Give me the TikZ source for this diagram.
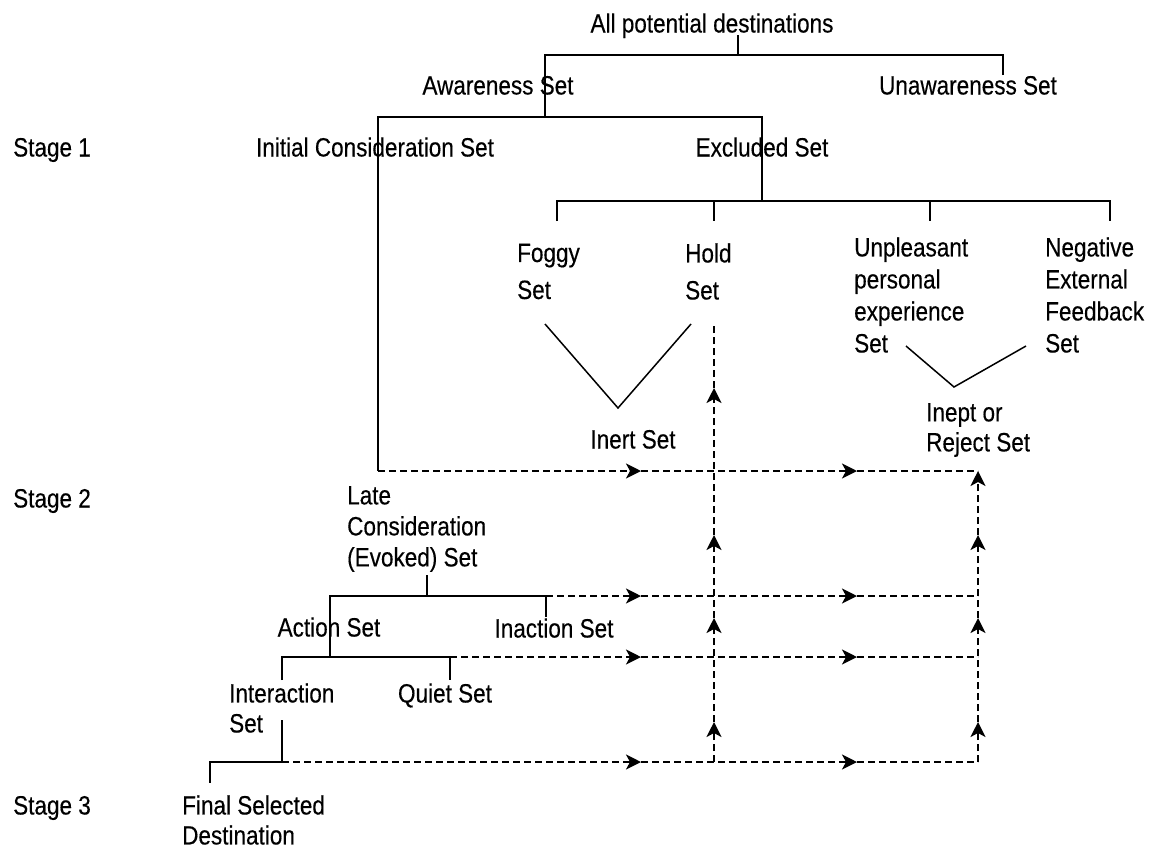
\documentclass[tikz,border=0pt]{standalone}
\usepackage{fontspec}
\setmainfont{Liberation Sans}[FakeStretch=0.85,FakeBold=0.3]
\usetikzlibrary{arrows.meta}
\tikzset{
  lbl/.style={inner sep=0pt, font=\fontsize{26.5}{32}\selectfont, text height=19pt, text depth=0pt},
  mlbl/.style={inner sep=0pt, font=\fontsize{26.5}{32}\selectfont, align=left, anchor=west},
  solidl/.style={line width=2pt},
  dl/.style={line width=2pt, dash pattern=on 7pt off 4pt},
  dla/.style={dl, -{Stealth[length=15pt,width=15pt,inset=4pt]}},
}
\begin{document}
\begin{tikzpicture}[x=1pt,y=-1pt]
\useasboundingbox (0,0) rectangle (1156,852);

% text nodes
\node[lbl,anchor=west] (stage1) at (13,147) {Stage 1};
\node[lbl,anchor=west] (stage2) at (13,498) {Stage 2};
\node[lbl,anchor=west] (stage3) at (13,805) {Stage 3};
\node[lbl] (all) at (712,23) {All potential destinations};
\node[lbl] (aware) at (498,85) {Awareness Set};
\node[lbl] (unaware) at (968,85) {Unawareness Set};
\node[lbl] (initial) at (375,147) {Initial Consideration Set};
\node[lbl] (excluded) at (762,147) {Excluded Set};
\node[mlbl] (foggy) at (517,271.5) {Foggy\\[5pt]Set};
\node[mlbl] (hold) at (685,271.5) {Hold\\[5pt]Set};
\node[mlbl] (unpl) at (854,295) {Unpleasant\\personal\\experience\\Set};
\node[mlbl] (neg) at (1045,295) {Negative\\External\\Feedback\\Set};
\node[lbl] (inert) at (633,439) {Inert Set};
\node[mlbl] (inept) at (926,430) {Inept or\\[-2pt]Reject Set};
\node[mlbl] (late) at (347,529) {Late\\[-1pt]Consideration\\[-1pt](Evoked) Set};
\node[lbl] (action) at (329,627) {Action Set};
\node[lbl] (inaction) at (554,628) {Inaction Set};
\node[mlbl] (interaction) at (229,708) {Interaction\\[-2pt]Set};
\node[lbl] (quiet) at (445,693) {Quiet Set};
\node[mlbl] (final) at (182,820) {Final Selected\\[-2pt]Destination};

% junction coordinates
\coordinate (allb) at (738,35);
\coordinate (tm) at (738,55);
\coordinate (tl) at (545,55);
\coordinate (tr) at (1003,55);
\coordinate (unt) at (1003,75);
\coordinate (awb) at (545,117);
\coordinate (l2) at (378,117);
\coordinate (r2) at (762,117);
\coordinate (exb) at (762,201);
\coordinate (ja) at (557,201);
\coordinate (jb) at (714,201);
\coordinate (jc) at (930,201);
\coordinate (jd) at (1110,201);
\coordinate (ja2) at (557,221);
\coordinate (jb2) at (714,221);
\coordinate (jc2) at (930,221);
\coordinate (jd2) at (1110,221);
\coordinate (v1a) at (545,324);
\coordinate (v1b) at (618,408);
\coordinate (v1c) at (691,324);
\coordinate (v2a) at (906,346);
\coordinate (v2b) at (954,387);
\coordinate (v2c) at (1026,346);
\coordinate (lateb) at (427,575);
\coordinate (latej) at (427,596);
\coordinate (ljl) at (330,596);
\coordinate (ljr) at (546,596);
\coordinate (inat) at (546,617);
\coordinate (actb) at (330,657);
\coordinate (ajl) at (282,657);
\coordinate (ajr) at (450,657);
\coordinate (qt) at (450,680);
\coordinate (intt) at (282,680);
\coordinate (intb) at (282,720);
\coordinate (fj) at (282,762);
\coordinate (fjl) at (210,762);
\coordinate (fint) at (210,783);
\coordinate (icb) at (378,471);

% dashed-flow coordinates (arrow tips and ends)
\coordinate (h1a) at (641,471); \coordinate (h1b) at (857,471); \coordinate (rt) at (978,471);
\coordinate (h2a) at (641,596); \coordinate (h2b) at (857,596); \coordinate (h2e) at (978,596);
\coordinate (h3a) at (641,657); \coordinate (h3b) at (857,657); \coordinate (h3e) at (978,657);
\coordinate (h4a) at (641,762); \coordinate (h4b) at (857,762); \coordinate (rbot) at (978,762);
\coordinate (hbot) at (714,762);
\coordinate (va1) at (714,722); \coordinate (va2) at (714,618);
\coordinate (va3) at (714,535); \coordinate (va4) at (714,388);
\coordinate (htop) at (714,324);
\coordinate (vb1) at (978,722); \coordinate (vb2) at (978,618);
\coordinate (vb3) at (978,535);

% solid tree lines
\draw[solidl] (allb) -- (tm);
\draw[solidl] (unt) -- (tr) -- (tl) -- (awb);
\draw[solidl] (icb) -- (l2) -- (r2) -- (exb);
\draw[solidl] (ja2) -- (ja) -- (jd) -- (jd2);
\draw[solidl] (jb) -- (jb2);
\draw[solidl] (jc) -- (jc2);
\draw[line width=1.5pt] (v1a) -- (v1b) -- (v1c);
\draw[line width=1.5pt] (v2a) -- (v2b) -- (v2c);
\draw[solidl] (lateb) -- (latej);
\draw[solidl] (actb) -- (ljl) -- (ljr) -- (inat);
\draw[solidl] (intt) -- (ajl) -- (ajr) -- (qt);
\draw[solidl] (intb) -- (fj) -- (fjl) -- (fint);

% dashed horizontal flows
\draw[dla] (icb) -- (h1a); \draw[dla] (h1a) -- (h1b); \draw[dl] (h1b) -- (rt);
\draw[dla] (ljr) -- (h2a); \draw[dla] (h2a) -- (h2b); \draw[dl] (h2b) -- (h2e);
\draw[dla] (ajr) -- (h3a); \draw[dla] (h3a) -- (h3b); \draw[dl] (h3b) -- (h3e);
\draw[dla] (fj) -- (h4a); \draw[dla] (h4a) -- (h4b); \draw[dl] (h4b) -- (rbot);

% dashed vertical flows
\draw[dla] (hbot) -- (va1); \draw[dla] (va1) -- (va2); \draw[dla] (va2) -- (va3);
\draw[dla] (va3) -- (va4); \draw[dl] (va4) -- (htop);
\draw[dla] (rbot) -- (vb1); \draw[dla] (vb1) -- (vb2); \draw[dla] (vb2) -- (vb3);
\draw[dla] (vb3) -- (rt);
\end{tikzpicture}
\end{document}
